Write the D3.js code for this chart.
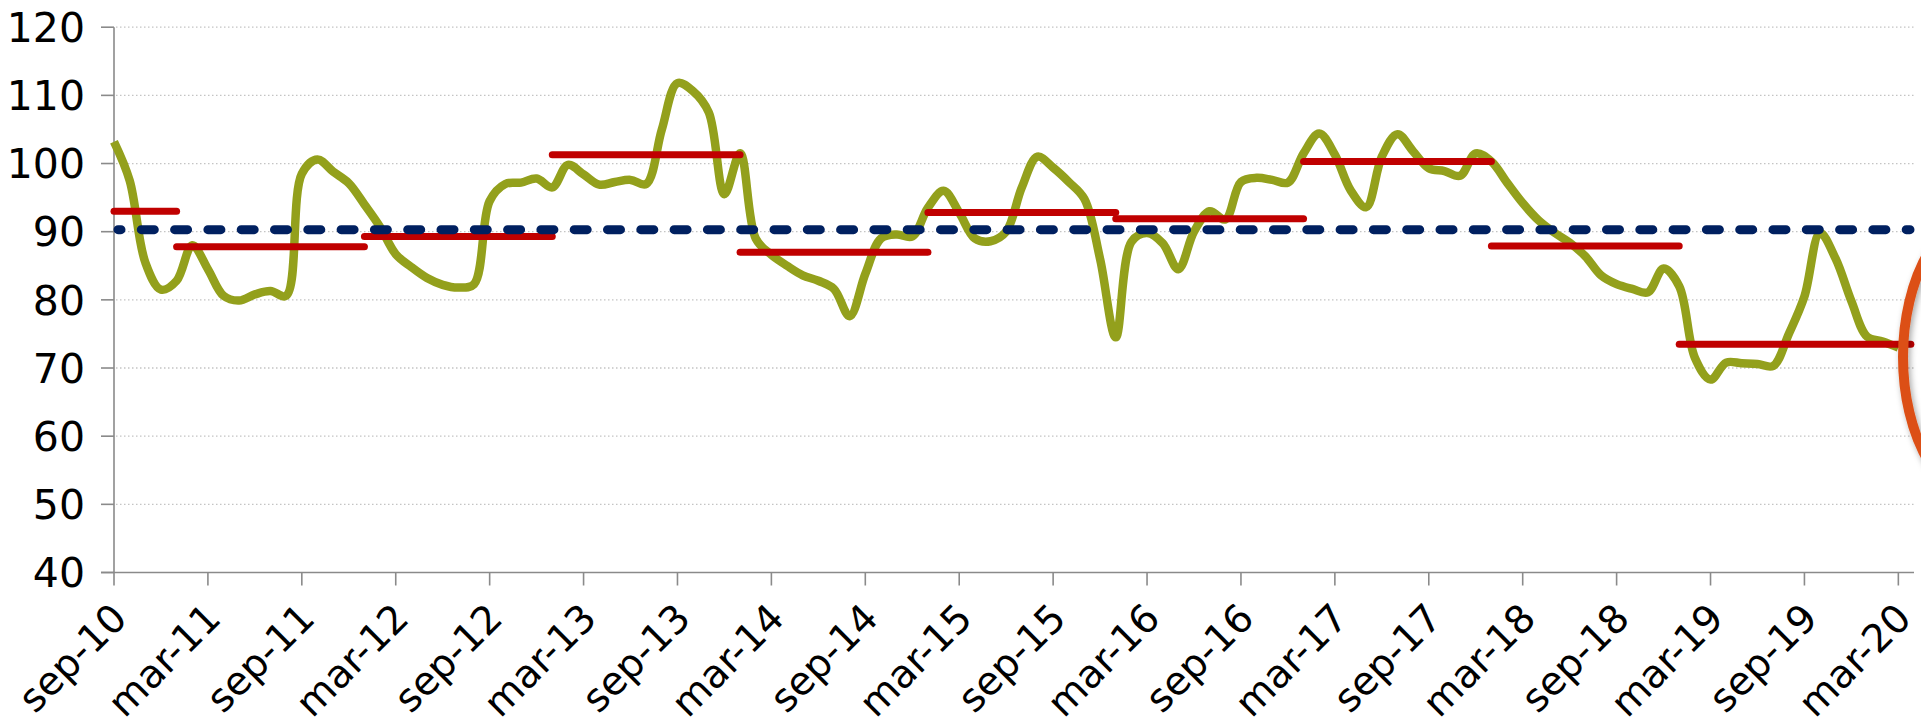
<!DOCTYPE html>
<html>
<head>
    <title>index chart</title>
    <style>
        body {
            background: #ffffff;
            margin: 0;
            padding: 0;
            overflow: hidden;
        }

        .tick-label {
            font-family: "DejaVu Sans", Verdana, sans-serif;
            font-size: 41px;
            fill: #000000;
        }

        .x-label {
            font-size: 39px;
        }

        .grid-line {
            stroke: #c4c4c4;
            stroke-width: 1.3;
            stroke-dasharray: 1.5 2.5;
        }

        .axis-line {
            stroke: #8a8a8a;
            stroke-width: 1.6;
        }
    </style>
</head>
<body>
    <svg id="chart" width="1921" height="724"></svg>

    <script src="https://d3js.org/d3.v7.min.js"></script>
    <script>
        // monthly index, first value = sep-10
        const indexValues = [
            103.2, 97.5, 85.5, 81.5, 82.8, 88.0, 84.5, 80.6, 79.9, 80.8, 81.3, 80.6,
            98.5, 100.6, 98.8, 97.1, 94.0, 90.7, 86.7, 84.8, 83.2, 82.2, 81.8, 82.3,
            94.5, 97.0, 97.2, 97.8, 96.5, 99.8, 98.4, 96.9, 97.3, 97.6, 97.0, 105.0,
            111.8, 110.6, 107.5, 95.5, 101.5, 89.0, 86.6, 85.0, 83.6, 82.8, 81.6, 77.6,
            83.8, 89.0, 89.6, 89.3, 93.5, 96.0, 92.8, 89.0, 88.6, 90.0, 96.5, 101.0,
            99.4, 97.3, 94.8, 86.0, 74.5, 88.5, 89.8, 88.3, 84.5, 90.0, 93.0, 91.8,
            97.3, 97.9, 97.6, 97.2, 101.5, 104.4, 101.3, 96.1, 93.6, 101.0, 104.3, 101.8,
            99.3, 98.9, 98.2, 101.5, 100.3, 97.2, 94.2, 91.7, 89.9, 88.4, 86.4, 83.6,
            82.3, 81.6, 81.1, 84.6, 82.0, 71.5, 68.3, 70.8, 70.7, 70.6, 70.3, 75.0,
            80.5, 89.8, 86.0, 79.8, 74.6, 73.9, 73.0
        ];

        // yearly averages (red), start / end in months after sep-10
        const yearAvg = [93.0, 87.8, 89.3, 101.3, 87.0, 92.8, 91.9, 100.3, 87.9, 73.5];
        const yearStart = [0, 4, 16, 28, 40, 52, 64, 76, 88, 100];
        const yearEnd = [4, 16, 28, 40, 52, 64, 76, 88, 100, 114.8];

        // long run average (blue dashed)
        const longRunAvg = 90.3;

        const tickLabels = ['sep-10', 'mar-11', 'sep-11', 'mar-12', 'sep-12', 'mar-13', 'sep-13',
            'mar-14', 'sep-14', 'mar-15', 'sep-15', 'mar-16', 'sep-16', 'mar-17', 'sep-17',
            'mar-18', 'sep-18', 'mar-19', 'sep-19', 'mar-20'];
        const tickMonths = [0, 6, 12, 18, 24, 30, 36, 42, 48, 54, 60, 66, 72, 78, 84, 90, 96, 102, 108, 114];
        const yTicks = [40, 50, 60, 70, 80, 90, 100, 110, 120];

        const svg = d3.select('#chart');
        const x = d3.scaleLinear().domain([0, 115]).range([114, 1914]);
        const y = d3.scaleLinear().domain([40, 120]).range([572.5, 27.2]);

        // dotted gridlines
        svg.append('g').selectAll('line')
            .data(yTicks.filter(d => d > 40))
            .enter().append('line')
            .attr('class', 'grid-line')
            .attr('x1', x(0) + 2).attr('x2', x(115))
            .attr('y1', d => y(d)).attr('y2', d => y(d));

        // axes
        svg.append('line').attr('class', 'axis-line')
            .attr('x1', x(0)).attr('x2', x(0))
            .attr('y1', y(120)).attr('y2', y(40));
        svg.append('line').attr('class', 'axis-line')
            .attr('x1', 101).attr('x2', x(115))
            .attr('y1', y(40)).attr('y2', y(40));

        svg.append('g').selectAll('line')
            .data(yTicks)
            .enter().append('line')
            .attr('class', 'axis-line')
            .attr('x1', 101).attr('x2', x(0))
            .attr('y1', d => y(d)).attr('y2', d => y(d));

        svg.append('g').selectAll('text')
            .data(yTicks)
            .enter().append('text')
            .attr('class', 'tick-label')
            .attr('x', 85)
            .attr('y', d => y(d))
            .attr('dy', '0.36em')
            .attr('text-anchor', 'end')
            .text(d => d);

        svg.append('g').selectAll('line')
            .data(tickMonths)
            .enter().append('line')
            .attr('class', 'axis-line')
            .attr('x1', d => x(d)).attr('x2', d => x(d))
            .attr('y1', y(40)).attr('y2', y(40) + 13);

        svg.append('g').selectAll('text')
            .data(tickMonths)
            .enter().append('text')
            .attr('class', 'tick-label x-label')
            .attr('text-anchor', 'end')
            .attr('transform', d => `translate(${x(d) + 15}, ${y(40) + 48}) rotate(-45)`)
            .text((d, i) => tickLabels[i]);

        // index line
        const line = d3.line()
            .x((d, i) => x(i))
            .y(d => y(d))
            .curve(d3.curveCatmullRom.alpha(0.5));

        svg.append('path')
            .datum(indexValues)
            .attr('d', line)
            .attr('fill', 'none')
            .attr('stroke', '#93a01c')
            .attr('stroke-width', 8.5)
            .attr('stroke-linejoin', 'round');

        // yearly averages
        svg.append('g').selectAll('line')
            .data(yearAvg)
            .enter().append('line')
            .attr('x1', (d, i) => x(yearStart[i]))
            .attr('x2', (d, i) => x(yearEnd[i]))
            .attr('y1', d => y(d)).attr('y2', d => y(d))
            .attr('stroke', '#c00000')
            .attr('stroke-width', 7)
            .attr('stroke-linecap', 'round');

        // long run average
        svg.append('line')
            .attr('x1', x(0) + 4).attr('x2', x(115) - 4)
            .attr('y1', y(longRunAvg)).attr('y2', y(longRunAvg))
            .attr('stroke', '#002060')
            .attr('stroke-width', 9)
            .attr('stroke-linecap', 'round')
            .attr('stroke-dasharray', '13 20.3')
            .attr('stroke-dashoffset', 10);

        // highlight ring at the right edge
        const defs = svg.append('defs');
        const shadow = defs.append('filter').attr('id', 'shadow')
            .attr('x', '-30%').attr('y', '-30%').attr('width', '160%').attr('height', '160%');
        shadow.append('feDropShadow')
            .attr('dx', 2).attr('dy', 3).attr('stdDeviation', 3)
            .attr('flood-color', '#000000').attr('flood-opacity', 0.35);

        svg.append('ellipse')
            .attr('cx', 1993).attr('cy', 357)
            .attr('rx', 90).attr('ry', 150)
            .attr('fill', 'none')
            .attr('stroke', '#dc5016')
            .attr('stroke-width', 10)
            .attr('filter', 'url(#shadow)');
    </script>
</body>
</html>
